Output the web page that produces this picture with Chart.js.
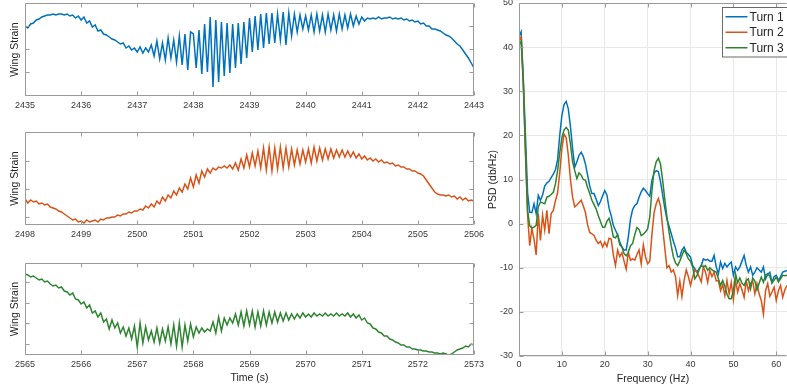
<!DOCTYPE html>
<html>
<head>
<meta charset="utf-8">
<script src="https://cdn.jsdelivr.net/npm/chart.js@4.4.0/dist/chart.umd.min.js"></script>
<style>
  html, body { margin: 0; padding: 0; background: #fff; }
  #wrap { position: relative; width: 787px; height: 392px; overflow: hidden; }
  #wrap canvas { position: absolute; left: 0; top: 0; }
</style>
</head>
<body>
<div id="wrap">
  <canvas id="turn1" width="787" height="392"></canvas>
  <canvas id="turn2" width="787" height="392"></canvas>
  <canvas id="turn3" width="787" height="392"></canvas>
  <canvas id="psd" width="787" height="392"></canvas>
</div>
<script>
const strain1 = [
  70, 68, 72, 73, 76, 77, 79, 80, 81, 81,
  82, 81, 82, 82, 81, 82, 80, 81, 78, 80,
  76, 79, 73, 75, 69, 71, 65, 66, 62, 61,
  59, 57, 56, 54, 52, 53, 48, 50, 46, 48,
  44, 49, 43, 48, 44, 51, 40, 55, 37, 53,
  36, 58, 38, 56, 34, 60, 31, 62, 26, 64,
  62, 28, 66, 22, 72, 24, 79, 9, 76, 14,
  74, 20, 73, 23, 72, 28, 73, 32, 74, 38,
  78, 44, 80, 46, 82, 48, 83, 52, 83, 53,
  82, 56, 84, 51, 83, 60, 82, 64, 81, 67,
  80, 66, 81, 64, 82, 65, 81, 64, 82, 66,
  81, 65, 82, 67, 81, 68, 82, 70, 80, 72,
  79, 75, 78, 77, 78, 77, 79, 77, 78, 78,
  79, 77, 78, 77, 78, 76, 77, 75, 76, 74,
  75, 72, 73, 70, 70, 67, 67, 66, 65, 63,
  61, 60, 58, 55, 52, 50, 46, 42, 38, 33,
  28
];
const strain2 = [
  26, 22, 25, 23, 24, 21, 22, 20, 21, 18,
  17, 16, 14, 13, 11, 9, 7, 5, 6, 3,
  4, 2, 5, 3, 4, 5, 3, 6, 5, 7,
  7, 8, 8, 10, 9, 11, 11, 13, 12, 14,
  14, 16, 15, 19, 17, 21, 18, 24, 21, 28,
  24, 30, 27, 34, 30, 37, 33, 41, 36, 47,
  38, 50, 42, 54, 48, 56, 52, 57, 55, 58,
  57, 59, 57, 60, 56, 62, 55, 66, 57, 70,
  58, 72, 59, 74, 57, 77, 55, 78, 54, 77,
  56, 78, 57, 77, 58, 76, 60, 75, 61, 75,
  63, 76, 62, 78, 64, 77, 65, 76, 66, 76,
  67, 75, 68, 75, 68, 74, 68, 73, 67, 71,
  66, 69, 65, 67, 64, 66, 63, 65, 62, 63,
  61, 62, 59, 60, 58, 58, 56, 56, 54, 54,
  52, 51, 49, 45, 41, 37, 33, 31, 30, 30,
  29, 30, 28, 29, 26, 28, 25, 27, 24, 25,
  24
];
const strain3 = [
  81, 80, 78, 79, 77, 75, 76, 73, 74, 71,
  69, 70, 67, 68, 64, 63, 60, 62, 56, 55,
  51, 53, 47, 50, 42, 44, 38, 42, 33, 36,
  26, 35, 27, 32, 22, 28, 19, 27, 16, 29,
  8, 32, 12, 28, 15, 24, 13, 27, 12, 26,
  14, 28, 11, 30, 9, 32, 8, 30, 14, 31,
  18, 28, 22, 27, 23, 26, 24, 33, 22, 38,
  24, 37, 30, 37, 32, 41, 30, 43, 29, 44,
  30, 44, 28, 43, 29, 44, 30, 43, 32, 43,
  33, 42, 34, 42, 35, 41, 36, 41, 37, 42,
  38, 41, 38, 42, 39, 41, 39, 42, 39, 41,
  39, 42, 39, 41, 39, 42, 38, 41, 37, 40,
  35, 37, 32, 31, 27, 26, 23, 22, 19, 19,
  16, 15, 13, 12, 10, 10, 8, 8, 6, 6,
  5, 5, 4, 4, 3, 3, 2, 2, 1, 2,
  1, 0, 1, 3, 5, 6, 7, 9, 8, 11,
  10
];
const startTimes = [2435, 2498, 2565];
const sampleStep = 0.05;

// unlabeled y tick positions and y-axis tops for each strip
const strainTicks1 = [24, 47, 70];
const strainTicks2 = [8, 36, 64];
const strainTicks3 = [11, 32, 52, 73];
const strainMax = [93, 93, 92];

// PSD (dB/Hz) every 0.5 Hz from 0 to 62.5 Hz
const psdTurn1 = [
  42.5, 43.5, 33, 20, 7, 2.6, 2.5, 4.5, 2.3, 6.4,
  5.3, 6.5, 8.5, 9.2, 9.6, 10.4, 11.2, 12.2, 14.5, 20,
  24.5, 27, 27.7, 26, 22, 17, 12.8, 14, 15.5, 16.2,
  15.2, 13.5, 11, 8.5, 6.8, 6.8, 5.5, 4.1, 5, 6.3,
  7.5, 6.5, 3.5, 1.8, -0.4, -1.5, -2.5, -4.2, -5.3, -6,
  -6, -3, 1, 3.2, 4.1, 4.5, 6, 7.2, 8, 7.5,
  6.8, 6.2, 9.8, 11.5, 12, 11.8, 9.5, 6.5, 3.5, 1,
  -0.6, -2.3, -4, -5.5, -7.5, -7.5, -6, -5.3, -6.5, -7,
  -7.6, -9.5, -10.2, -11, -10.2, -9.5, -8, -8.3, -8.1, -8.5,
  -8.5, -7.2, -9.8, -11.4, -8.7, -10.2, -9, -9.8, -9.2, -8.7,
  -11.7, -9.8, -10.6, -9.8, -8.5, -7.2, -9.5, -11, -9.8, -11.7,
  -11, -10, -10.5, -11, -9.8, -12.5, -11.5, -11, -13.3, -12,
  -11.7, -12.9, -12, -11, -10.8, -10.6
];
const psdTurn2 = [
  41.5, 42.3, 32, 16, 2, -5, -1.1, -3.5, -7.1, 2.3,
  -3.8, 1.9, -1.5, 3, -2.3, 2.3, 3, 5.2, 7, 11.5,
  17, 20.3, 19.5, 15.5, 10, 6, 3.8, 4.2, 4.8, 5.3,
  4, 2.5, -0.3, -2, -2.3, -2.7, -3.8, -4.5, -4, -5.3,
  -4.2, -5.2, -3.3, -3.5, -7, -9.5, -6, -7.5, -6.6, -8.5,
  -10.3, -6.5, -8.3, -8, -8.3, -7, -6, -9.1, -4.8, -7.5,
  -9.1, -8.5, -2.5, 2.5, 4.5, 5.7, 4, -1, -5.5, -10,
  -9.5, -11, -10.5, -12, -16.3, -13, -16.5, -12.9, -10.5, -12,
  -14, -12.1, -10.5, -11, -12, -13.2, -9.8, -11, -13.3, -10.6,
  -12, -11, -13, -12.9, -15.2, -13.8, -16.3, -12.9, -15.9, -13.3,
  -17.2, -12.9, -15.5, -13.6, -15, -16.7, -12.9, -15.2, -13.5, -13,
  -15.9, -13.6, -15.9, -17.4, -20.5, -15.2, -13.6, -16.5, -15.5, -14.4,
  -17.4, -15.2, -14, -16.7, -15, -14
];
const psdTurn3 = [
  40.5, 41.3, 32, 17, 3, -0.5, -1, -0.8, -0.4, 3.8,
  4.9, 4.7, 4.5, 6, 6.2, 6.6, 7.1, 9, 12, 16,
  19.5, 21.2, 21.8, 21.2, 18, 14, 12, 10.2, 11.5, 11,
  10, 9.8, 8.2, 6.8, 5.3, 4.3, 3.3, 1.8, 0.5, -0.8,
  -0.8, 0.5, 1.2, -0.5, -3, -3.2, -2.5, -4.8, -5.2, -6.8,
  -7.3, -6.5, -5, -4.5, -2.5, -0.9, -1.3, -2.7, -2.4, -1.9,
  -1.2, 1.5, 7.5, 12, 14, 14.8, 13.5, 9.8, 5.5, 1.5,
  -2, -5, -7.5, -8.9, -9.5, -8.5, -7.2, -6, -6.8, -8,
  -8.5, -9.8, -12.5, -11.8, -10.5, -9.5, -9.8, -9.5, -10.6, -10,
  -10.5, -10.8, -11, -12.5, -14, -12.9, -14.2, -16, -17, -17,
  -15.2, -11.4, -13.4, -12.3, -13.5, -14, -12.9, -12.5, -14.8, -12.3,
  -13, -15, -13.5, -12.1, -13.3, -11.7, -11.3, -12, -13.5, -12.8,
  -12.1, -13.2, -12.5, -11.7, -11.8, -11.7
];
const freqStep = 0.5;
const turnLabels = ['Turn 1', 'Turn 2', 'Turn 3'];
const turnColors = ['#0072BD', '#D95319', '#2E8430'];

const FONT = "'Liberation Sans', Arial, Helvetica, sans-serif";
Chart.defaults.font.family = FONT;
Chart.defaults.font.size = 9;
Chart.defaults.color = '#383838';

// MATLAB-like box with inward tick marks
const boxAxes = {
  id: 'boxAxes',
  afterDraw(chart, args, o) {
    const {ctx, chartArea: a, scales: {x, y}} = chart;
    const L = Math.round(a.left) + 0.5, R = Math.round(a.right) - 0.5;
    const T = Math.round(a.top) + 0.5, B = Math.round(a.bottom) - 0.5;
    const len = 4;
    ctx.save();
    ctx.strokeStyle = '#9a9a9a';
    ctx.lineWidth = 1;
    ctx.beginPath();
    ctx.moveTo(L, T); ctx.lineTo(L, B); ctx.lineTo(R, B);
    ctx.moveTo(L, T); ctx.lineTo(R, T);
    if (!o.noRight) { ctx.moveTo(R, T); ctx.lineTo(R, B); }
    x.ticks.forEach(t => {
      const px = Math.round(x.getPixelForValue(t.value)) + 0.5;
      ctx.moveTo(px, B); ctx.lineTo(px, B - len);
      ctx.moveTo(px, T); ctx.lineTo(px, T + len);
    });
    y.ticks.forEach(t => {
      const py = Math.round(y.getPixelForValue(t.value)) + 0.5;
      ctx.moveTo(L, py); ctx.lineTo(L + len, py);
      if (!o.noRight) { ctx.moveTo(R, py); ctx.lineTo(R - len, py); }
    });
    ctx.stroke();
    ctx.restore();
  }
};

// framed legend in the top right corner of the plot area
const boxLegend = {
  id: 'boxLegend',
  afterDraw(chart, args, o) {
    if (!o.display) return;
    const {ctx, chartArea: a} = chart;
    const sets = chart.data.datasets;
    const left = Math.round(a.right - 65) + 0.5, top = Math.round(a.top + 4) + 0.5;
    const rowH = 15.5, h = rowH * sets.length + 3;
    ctx.save();
    ctx.fillStyle = '#fff';
    ctx.fillRect(left, top, 70, h);
    ctx.strokeStyle = '#6a6a6a';
    ctx.lineWidth = 1;
    ctx.strokeRect(left, top, 70, h);
    ctx.font = '12px ' + FONT;
    ctx.textBaseline = 'middle';
    sets.forEach((ds, i) => {
      const cy = top + 1.5 + rowH * (i + 0.5);
      ctx.strokeStyle = ds.borderColor;
      ctx.lineWidth = 1.5;
      ctx.beginPath(); ctx.moveTo(left + 3, cy); ctx.lineTo(left + 25, cy); ctx.stroke();
      ctx.fillStyle = '#262626';
      ctx.fillText(ds.label, left + 27, cy + 0.5);
    });
    ctx.restore();
  }
};

function strainChart(id, values, color, t0, yMax, yTicks, top, bottom, withTitle) {
  const xH = withTitle ? 29 : 20;
  const points = values.map((v, i) => ({x: +(t0 + i * sampleStep).toFixed(2), y: v}));
  return new Chart(document.getElementById(id), {
    type: 'line',
    data: {datasets: [{data: points, borderColor: color, borderWidth: 1.5, pointRadius: 0, tension: 0}]},
    options: {
      responsive: false,
      devicePixelRatio: 1,
      animation: false,
      layout: {padding: {left: 0, right: 787 - 474, top: top, bottom: 392 - bottom - xH}},
      plugins: {legend: {display: false}, tooltip: {enabled: false}, boxAxes: {}},
      scales: {
        x: {
          type: 'linear', min: t0, max: t0 + 8,
          border: {display: false}, grid: {display: false, drawTicks: false},
          ticks: {stepSize: 1, autoSkip: false, maxRotation: 0, padding: 4, callback: v => String(v)},
          title: {display: withTitle, text: 'Time (s)', font: {size: 10.5}, padding: 0, color: '#262626'},
          afterFit: s => { s.height = xH; s.paddingLeft = 0; s.paddingRight = 0; }
        },
        y: {
          min: 0, max: yMax,
          border: {display: false}, grid: {display: false, drawTicks: false}, ticks: {display: false},
          afterBuildTicks: s => { s.ticks = yTicks.map(value => ({value})); },
          title: {display: true, text: 'Wing Strain', font: {size: 10.5}, padding: {top: 9, bottom: 0}, color: '#262626'},
          afterFit: s => { s.width = 25; s.paddingTop = 0; s.paddingBottom = 0; }
        }
      }
    },
    plugins: [boxAxes]
  });
}

strainChart('turn1', strain1, turnColors[0], startTimes[0], strainMax[0], strainTicks1, 3, 96, false);
strainChart('turn2', strain2, turnColors[1], startTimes[1], strainMax[1], strainTicks2, 132, 225, false);
strainChart('turn3', strain3, turnColors[2], startTimes[2], strainMax[2], strainTicks3, 263, 355, true);

const psdSeries = [psdTurn1, psdTurn2, psdTurn3];
new Chart(document.getElementById('psd'), {
  type: 'line',
  data: {
    datasets: psdSeries.map((vals, k) => ({
      label: turnLabels[k],
      data: vals.map((v, i) => ({x: i * freqStep, y: v})),
      borderColor: turnColors[k],
      borderWidth: 1.5,
      pointRadius: 0,
      tension: 0,
      order: 2 - k
    }))
  },
  options: {
    responsive: false,
    devicePixelRatio: 1,
    animation: false,
    layout: {padding: {left: 480, right: 0, top: 3, bottom: 7}},
    plugins: {legend: {display: false}, tooltip: {enabled: false}, boxAxes: {noRight: true}, boxLegend: {display: true}},
    scales: {
      x: {
        type: 'linear', min: 0, max: 62.5,
        border: {display: false},
        grid: {color: '#e8e8e8', drawTicks: false},
        ticks: {stepSize: 10, includeBounds: false, autoSkip: false, maxRotation: 0, padding: 3},
        title: {display: true, text: 'Frequency (Hz)', font: {size: 10.5}, padding: 0, color: '#262626'},
        afterFit: s => { s.height = 29; s.paddingLeft = 0; s.paddingRight = 0; }
      },
      y: {
        min: -30, max: 50,
        border: {display: false},
        grid: {color: '#e8e8e8', drawTicks: false},
        ticks: {stepSize: 10, padding: 6},
        title: {display: true, text: 'PSD (db/Hz)', font: {size: 10.5}, padding: {top: 7, bottom: 0}, color: '#262626'},
        afterFit: s => { s.width = 39; s.paddingTop = 0; s.paddingBottom = 0; }
      }
    }
  },
  plugins: [boxAxes, boxLegend]
});
</script>
</body>
</html>
